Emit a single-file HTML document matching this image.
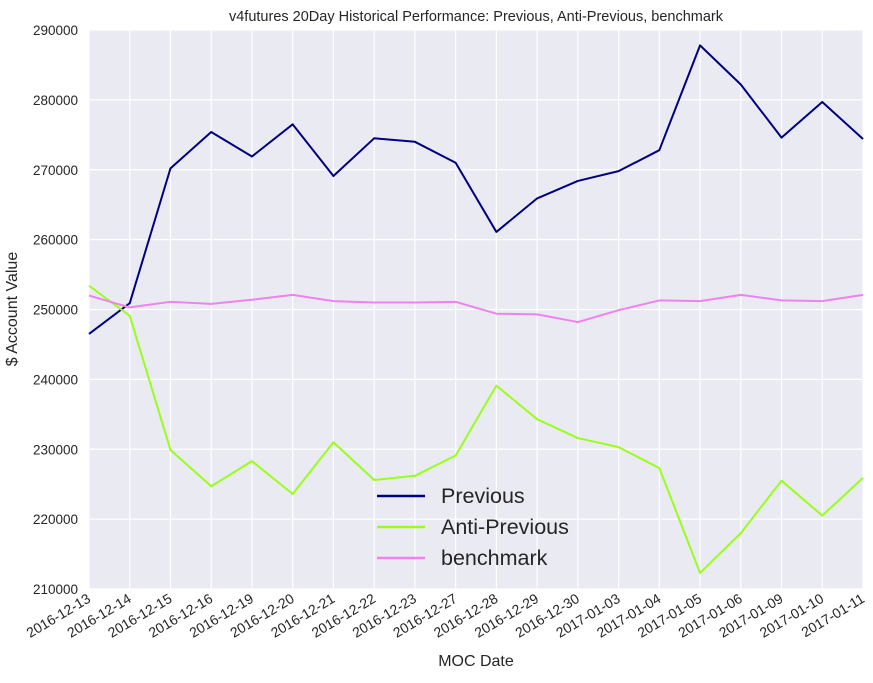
<!DOCTYPE html>
<html><head><meta charset="utf-8"><style>
body{margin:0;background:#fff;}
svg text{font-family:"Liberation Sans",Arial,sans-serif;fill:#262626;}
</style></head><body>
<svg id="chart" width="873" height="678" xmlns="http://www.w3.org/2000/svg"></svg>
<script>
const dates=["2016-12-13","2016-12-14","2016-12-15","2016-12-16","2016-12-19","2016-12-20","2016-12-21","2016-12-22","2016-12-23","2016-12-27","2016-12-28","2016-12-29","2016-12-30","2017-01-03","2017-01-04","2017-01-05","2017-01-06","2017-01-09","2017-01-10","2017-01-11"];
const previous=[246500,250900,270200,275400,271900,276500,269100,274500,274000,271000,261100,265900,268400,269800,272800,287800,282200,274600,279700,274400];
const antiPrevious=[253400,249100,229900,224700,228300,223600,231000,225600,226200,229100,239100,234300,231600,230300,227300,212300,218000,225500,220500,225900];
const benchmark=[252000,250300,251100,250800,251400,252100,251200,251000,251000,251100,249400,249300,248200,249900,251300,251200,252100,251300,251200,252100];
const yTicks=[210000,220000,230000,240000,250000,260000,270000,280000,290000];
const seriesNames=["Previous","Anti-Previous","benchmark"];
const seriesColors=["#000080","#99ff1a","#ee82ee"];

const NS="http://www.w3.org/2000/svg";
const svg=document.getElementById('chart');
const L=89,R=863,T=30,B=589,yMin=210000,yMax=290000;
function xs(i){return L+(R-L)*i/(dates.length-1);}
function ys(v){return B-(v-yMin)/(yMax-yMin)*(B-T);}
function mk(tag,attrs,parent){const e=document.createElementNS(NS,tag);for(const k in attrs)e.setAttribute(k,attrs[k]);(parent||svg).appendChild(e);return e;}

const bg=mk('rect',{x:L,y:T,width:R-L,height:B-T,fill:'#eaeaf2'});


yTicks.forEach(v=>{
  const g=mk('line',{x1:L,x2:R,y1:ys(v),y2:ys(v),stroke:'#fff','stroke-width':1.2});
  
  
  const t=mk('text',{x:78,y:ys(v)+5,'text-anchor':'end','font-size':13.5});
  t.textContent=v;
  
  
});
dates.forEach((d,i)=>{
  const g=mk('line',{x1:xs(i),x2:xs(i),y1:T,y2:B,stroke:'#fff','stroke-width':1.2});
  
  
  const t=mk('text',{x:xs(i),y:B+13,'text-anchor':'end','font-size':14,transform:`rotate(-31 ${xs(i)} ${B+8})`});
  t.textContent=d;
  
  
});
[previous,antiPrevious,benchmark].forEach((s,k)=>{
  const p=mk('polyline',{points:s.map((v,i)=>xs(i)+','+ys(v)).join(' '),fill:'none',stroke:seriesColors[k],'stroke-width':2,'stroke-linejoin':'round'});
  
  
});
seriesNames.forEach((n,k)=>{
  const y=496+k*31;
  const l=mk('line',{x1:377,x2:425,y1:y,y2:y,stroke:seriesColors[k],'stroke-width':2.5});
  
  
  const t=mk('text',{x:441,y:y+7,'font-size':21.5});
  t.textContent=n;
  
  
});
const title=mk('text',{x:476,y:21,'text-anchor':'middle','font-size':14.5});
title.textContent="v4futures 20Day Historical Performance: Previous, Anti-Previous, benchmark";


const xt=mk('text',{x:476,y:666,'text-anchor':'middle','font-size':16});
xt.textContent="MOC Date";


const yt=mk('text',{x:17,y:309,'text-anchor':'middle','font-size':16,transform:'rotate(-90 17 309)'});
yt.textContent="$ Account Value";


</script>
</body></html>
